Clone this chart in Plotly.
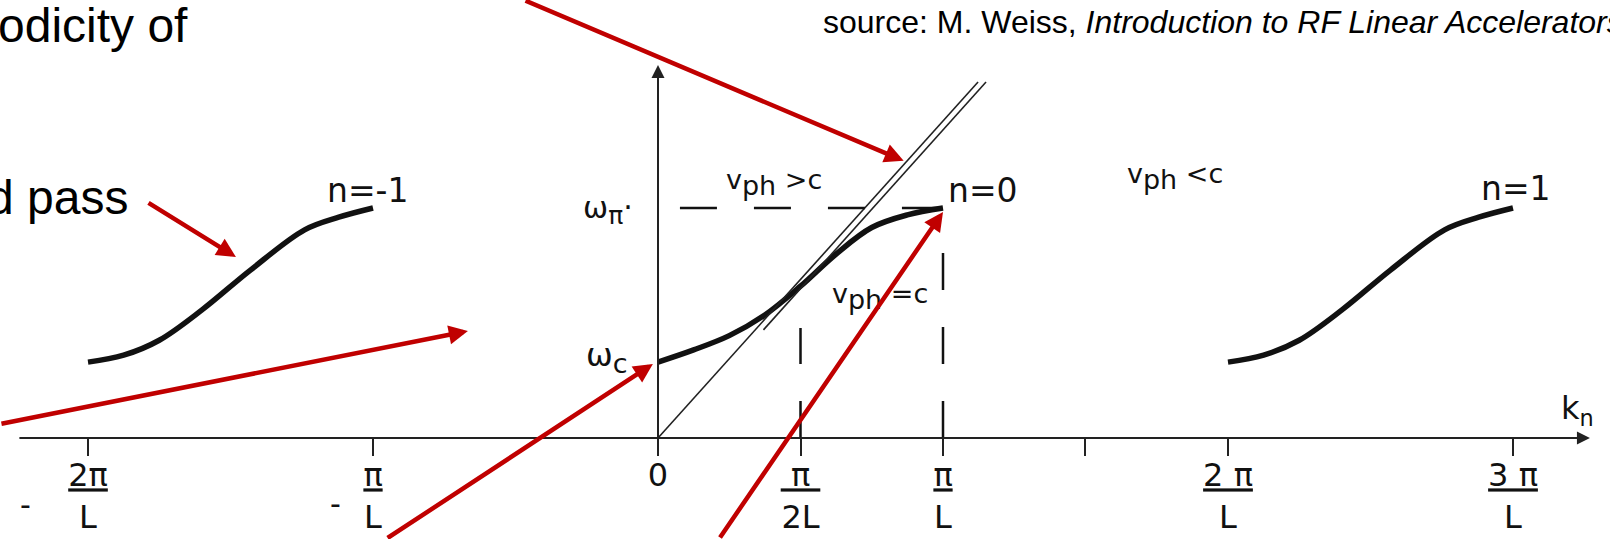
import plotly.graph_objects as go

# Brillouin diagram of a periodic structure: k_n in units of pi/L, omega in units of omega_pi
X_RANGE = [-2.3088, 3.3404]
Y_RANGE = [-0.4391, 1.9043]

# n = 0 pass band
K_N0 = [0.0, 0.125, 0.25, 0.375, 0.5, 0.625, 0.75, 0.875, 1.0]
W_N0 = [0.33, 0.383, 0.445, 0.535, 0.66, 0.80, 0.915, 0.97, 1.0]

# space harmonics n = -1 and n = 1 (offset along k from the start of each band)
K_SIDE = [0.0, 0.125, 0.25, 0.4, 0.57, 0.76, 0.88, 1.0]
W_SIDE = [0.33, 0.36, 0.425, 0.557, 0.73, 0.905, 0.96, 1.0]
SIDE_BAND_START = [-2.0, 2.0]

# light line (v_ph = c), drawn as a hollow double stroke in its upper part
LIGHT_K = [0.0, 1.123]
LIGHT_W = [0.0, 1.548]
LIGHT2_K = [0.37, 1.151]
LIGHT2_W = [0.47, 1.548]

# dashed guides
GUIDE_H_K = [0.077, 1.0]
GUIDE_H_W = [1.0, 1.0]
GUIDE_V_K = [0.5, 1.0]
GUIDE_V_TOP = [0.478, 0.817]

# k axis ticks
TICK_VALS = [-2, -1, 0, 0.5, 1, 1.5, 2, 3]
TICK_TEXT = ["<u>2π</u><br>L", "<u>π</u><br>L", "0", "<u>&nbsp;π&nbsp;</u><br>2L",
             "<u>π</u><br>L", "", "<u>2 π</u><br>L", "<u>3 π</u><br>L"]
MINUS_K = [-2.221, -1.133]
MINUS_W = [-0.291, -0.283]

# red call-out arrows: tail -> tip
ARROW_TAIL_K = [-0.47, -1.793, -2.309, -0.954, 0.214]
ARROW_TAIL_W = [1.904, 1.026, 0.061, -0.439, -0.439]
ARROW_TIP_K = [0.862, -1.481, -0.667, -0.018, 1.0]
ARROW_TIP_W = [1.205, 0.787, 0.465, 0.322, 0.983]

INK = "#111111"
RED = "#c00000"
DIAG_FONT = "DejaVu Sans"

fig = go.Figure()

# pass bands
fig.add_trace(go.Scatter(x=K_N0, y=W_N0, mode="lines",
                         line=dict(color=INK, width=5.5, shape="spline", smoothing=1.0)))
for start in SIDE_BAND_START:
    fig.add_trace(go.Scatter(x=[start + k for k in K_SIDE], y=W_SIDE, mode="lines",
                             line=dict(color=INK, width=5.5, shape="spline", smoothing=1.0)))

# light line
fig.add_trace(go.Scatter(x=LIGHT_K, y=LIGHT_W, mode="lines", line=dict(color="#222222", width=1.6)))
fig.add_trace(go.Scatter(x=LIGHT2_K, y=LIGHT2_W, mode="lines", line=dict(color="#222222", width=1.6)))

# dashed guides
fig.add_trace(go.Scatter(x=GUIDE_H_K, y=GUIDE_H_W, mode="lines",
                         line=dict(color=INK, width=2.5, dash="37px,37px")))
for k, top in zip(GUIDE_V_K, GUIDE_V_TOP):
    fig.add_trace(go.Scatter(x=[k, k], y=[0, top], mode="lines",
                             line=dict(color=INK, width=2.5, dash="37px,37px")))

# axes drawn as arrows
fig.add_annotation(x=3.27, y=0, ax=-2.246, ay=0, xref="x", yref="y", axref="x", ayref="y",
                   text="", showarrow=True, arrowhead=2, arrowsize=1.3, arrowwidth=2,
                   arrowcolor="#222222", standoff=0)
fig.add_annotation(x=0, y=1.622, ax=0, ay=-0.074, xref="x", yref="y", axref="x", ayref="y",
                   text="", showarrow=True, arrowhead=2, arrowsize=1.3, arrowwidth=2,
                   arrowcolor="#222222", standoff=0)

SUB = "<sub><span style='font-size:{size}px'>{txt}</span></sub>"

# diagram labels
labels = [
    ("n=-1", -1.018, 1.078, "center", 33),
    ("n=0", 1.14, 1.074, "center", 33),
    ("n=1", 3.01, 1.083, "center", 33),
    ("v" + SUB.format(size=27, txt="ph") + " &gt;c", 0.407, 1.113, "center", 27),
    ("v" + SUB.format(size=27, txt="ph") + " &lt;c", 1.814, 1.135, "center", 27),
    ("v" + SUB.format(size=27, txt="ph") + " =c", 0.779, 0.617, "center", 27),
    ("ω" + SUB.format(size=25, txt="π") + "·", -0.08, 0.99, "right", 30),
    ("ω" + SUB.format(size=27, txt="c"), -0.098, 0.35, "right", 32),
    ("k<sub>n</sub>", 3.228, 0.122, "center", 32),
]
for text, k, w, anchor, size in labels:
    fig.add_annotation(x=k, y=w, xref="x", yref="y", text=text, showarrow=False,
                       xanchor=anchor, yanchor="middle",
                       font=dict(family=DIAG_FONT, size=size, color=INK))
for k, w in zip(MINUS_K, MINUS_W):
    fig.add_annotation(x=k, y=w, xref="x", yref="y", text="-", showarrow=False,
                       xanchor="center", yanchor="middle",
                       font=dict(family=DIAG_FONT, size=30, color=INK))

# red call-out arrows
for tk, tw, hk, hw in zip(ARROW_TAIL_K, ARROW_TAIL_W, ARROW_TIP_K, ARROW_TIP_W):
    fig.add_annotation(x=hk, y=hw, ax=tk, ay=tw, xref="x", yref="y", axref="x", ayref="y",
                       text="", showarrow=True, arrowhead=2, arrowsize=0.85, arrowwidth=4.5,
                       arrowcolor=RED, standoff=0)

# slide text
fig.add_annotation(x=190 / 1610, y=1 - 26 / 539, xref="paper", yref="paper",
                   text="odicity of", showarrow=False, xanchor="right", yanchor="middle",
                   font=dict(family="Liberation Sans", size=48, color="#000000"))
fig.add_annotation(x=130 / 1610, y=1 - 197 / 539, xref="paper", yref="paper",
                   text="d pass", showarrow=False, xanchor="right", yanchor="middle",
                   font=dict(family="Liberation Sans", size=48, color="#000000"))
fig.add_annotation(x=821 / 1610, y=1 - 22 / 539, xref="paper", yref="paper",
                   text="source: M. Weiss, <i>Introduction to RF Linear Accelerators</i>",
                   showarrow=False, xanchor="left", yanchor="middle",
                   font=dict(family="Liberation Sans", size=32, color="#000000"))

axis_pos = (0 - Y_RANGE[0]) / (Y_RANGE[1] - Y_RANGE[0])

fig.update_layout(
    template="none",
    width=1610, height=539,
    margin=dict(l=0, r=0, t=0, b=0),
    paper_bgcolor="white", plot_bgcolor="white",
    showlegend=False,
    xaxis=dict(range=X_RANGE, anchor="free", position=axis_pos, showline=False,
               showgrid=False, zeroline=False, ticks="outside", ticklen=17, tickwidth=2,
               tickcolor="#222222", tickvals=TICK_VALS, ticktext=TICK_TEXT, tickangle=0,
               ticklabelstandoff=-8,
               tickfont=dict(family=DIAG_FONT, size=32, color=INK), automargin=False),
    yaxis=dict(range=Y_RANGE, visible=False, automargin=False),
)

fig.write_html("out.html")
